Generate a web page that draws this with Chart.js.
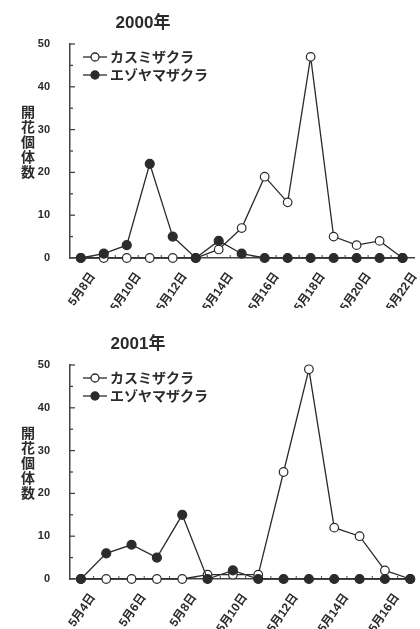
<!DOCTYPE html>
<html>
<head>
<meta charset="utf-8">
<script src="https://cdn.jsdelivr.net/npm/chart.js@4"></script>
<style>
  html, body { margin: 0; padding: 0; background: #fff; }
  .box { position: relative; width: 420px; }
</style>
</head>
<body>
<div class="box" style="height:308px"><canvas id="c2000"></canvas></div>
<div class="box" style="height:321px"><canvas id="c2001"></canvas></div>
<script>
// names
const SERIES_NAMES = ["カスミザクラ", "エゾヤマザクラ"];
const AXIS_TITLE = "開花個体数";

// 2000
const days2000 = [8, 9, 10, 11, 12, 13, 14, 15, 16, 17, 18, 19, 20, 21, 22];
const kasumi2000 = [0, 0, 0, 0, 0, 0, 2, 7, 19, 13, 47, 5, 3, 4, 0];
const ezo2000 = [0, 1, 3, 22, 5, 0, 4, 1, 0, 0, 0, 0, 0, 0, 0];
const tickDays2000 = [8, 10, 12, 14, 16, 18, 20, 22];
const tickLabels2000 = ["5月8日", "5月10日", "5月12日", "5月14日", "5月16日", "5月18日", "5月20日", "5月22日"];

// 2001
const days2001 = [4, 5, 6, 7, 8, 9, 10, 11, 12, 13, 14, 15, 16, 17];
const kasumi2001 = [0, 0, 0, 0, 0, 1, 1, 1, 25, 49, 12, 10, 2, 0];
const ezo2001 = [0, 6, 8, 5, 15, 0, 2, 0, 0, 0, 0, 0, 0, 0];
const tickDays2001 = [4, 6, 8, 10, 12, 14, 16];
const tickLabels2001 = ["5月4日", "5月6日", "5月8日", "5月10日", "5月12日", "5月14日", "5月16日"];

const INK = "#2b2b2b";
const FONT = '"Liberation Sans", "Noto Sans CJK JP", sans-serif';

// title, legend, upright axis title, inward ticks
const decor = {
  id: "decor",
  afterDraw(chart, args, opts) {
    const ctx = chart.ctx;
    const area = chart.chartArea;
    const x = chart.scales.x;
    const y = chart.scales.y;
    ctx.save();

    ctx.strokeStyle = "#444";
    ctx.lineWidth = 1.3;
    y.ticks.forEach(t => {
      const py = y.getPixelForValue(t.value);
      const len = t.value % 10 === 0 ? 5 : 3;
      ctx.beginPath();
      ctx.moveTo(area.left, py);
      ctx.lineTo(area.left + len, py);
      ctx.stroke();
    });
    // small marks between the days
    ctx.lineWidth = 1;
    opts.days.slice(0, -1).forEach(d => {
      const px = x.getPixelForValue(d + 0.5);
      ctx.beginPath();
      ctx.moveTo(px, area.bottom);
      ctx.lineTo(px, area.bottom - 3);
      ctx.stroke();
    });

    ctx.fillStyle = INK;
    ctx.textAlign = "center";
    ctx.textBaseline = "middle";
    ctx.font = "bold 17px " + FONT;
    ctx.fillText(opts.title, opts.titleX, area.top - 21);

    ctx.font = "bold 14px " + FONT;
    const y0 = y.getPixelForValue(0);
    [...AXIS_TITLE].forEach((ch, i) => ctx.fillText(ch, 28, y0 - 145 + i * 15));

    chart.data.datasets.forEach((ds, i) => {
      const ly = area.top + 13 + i * 18;
      ctx.strokeStyle = ds.borderColor;
      ctx.lineWidth = 1.3;
      ctx.beginPath();
      ctx.moveTo(area.left + 13, ly);
      ctx.lineTo(area.left + 37, ly);
      ctx.stroke();
      ctx.beginPath();
      ctx.arc(area.left + 25, ly, 4, 0, Math.PI * 2);
      ctx.fillStyle = ds.pointBackgroundColor;
      ctx.fill();
      ctx.stroke();
      ctx.fillStyle = INK;
      ctx.textAlign = "left";
      ctx.fillText(ds.label, area.left + 40, ly + 1);
    });
    ctx.restore();
  }
};

function makeChart(id, days, kasumi, ezo, tickDays, tickLabels, xMin, xMax, title, titleX, topPad) {
  const pts = arr => days.map((d, i) => ({ x: d, y: arr[i] }));
  return new Chart(document.getElementById(id), {
    type: "line",
    data: {
      datasets: [
        {
          label: SERIES_NAMES[0],
          data: pts(kasumi),
          borderColor: INK,
          borderWidth: 1.3,
          pointRadius: 4.3,
          pointBorderWidth: 1.2,
          pointBackgroundColor: "#ffffff",
          pointBorderColor: INK,
          tension: 0,
          clip: false,
          order: 2
        },
        {
          label: SERIES_NAMES[1],
          data: pts(ezo),
          borderColor: INK,
          borderWidth: 1.3,
          pointRadius: 4.5,
          pointBorderWidth: 1.2,
          pointBackgroundColor: INK,
          pointBorderColor: INK,
          tension: 0,
          clip: false,
          order: 1
        }
      ]
    },
    options: {
      responsive: true,
      maintainAspectRatio: false,
      animation: false,
      layout: { padding: { top: topPad, left: 0, right: 0, bottom: 0 } },
      plugins: {
        legend: { display: false },
        tooltip: { enabled: false },
        decor: { title: title, titleX: titleX, days: days }
      },
      scales: {
        x: {
          type: "linear",
          min: xMin,
          max: xMax,
          grid: { display: false },
          border: { display: true, color: "#444", width: 1.5 },
          afterBuildTicks: s => { s.ticks = tickDays.map(v => ({ value: v })); },
          afterFit: s => { s.height = 50; },
          ticks: {
            autoSkip: false,
            minRotation: 55,
            maxRotation: 55,
            padding: 4,
            labelOffset: 12,
            color: INK,
            font: { family: FONT, size: 12, weight: "bold" },
            callback: v => tickLabels[tickDays.indexOf(v)]
          }
        },
        y: {
          min: 0,
          max: 50,
          grid: { display: false },
          border: { display: true, color: "#444", width: 1.5 },
          afterFit: s => { s.width = 70; },
          ticks: {
            stepSize: 5,
            padding: 12,
            color: INK,
            font: { family: FONT, size: 11, weight: "bold" },
            callback: v => (v % 10 === 0 ? v : "")
          }
        }
      }
    },
    plugins: [decor]
  });
}

makeChart("c2000", days2000, kasumi2000, ezo2000, tickDays2000, tickLabels2000, 7.53, 22.51, "2000年", 143, 44);
makeChart("c2001", days2001, kasumi2001, ezo2001, tickDays2001, tickLabels2001, 3.57, 17.16, "2001年", 138, 57);
</script>
</body>
</html>
